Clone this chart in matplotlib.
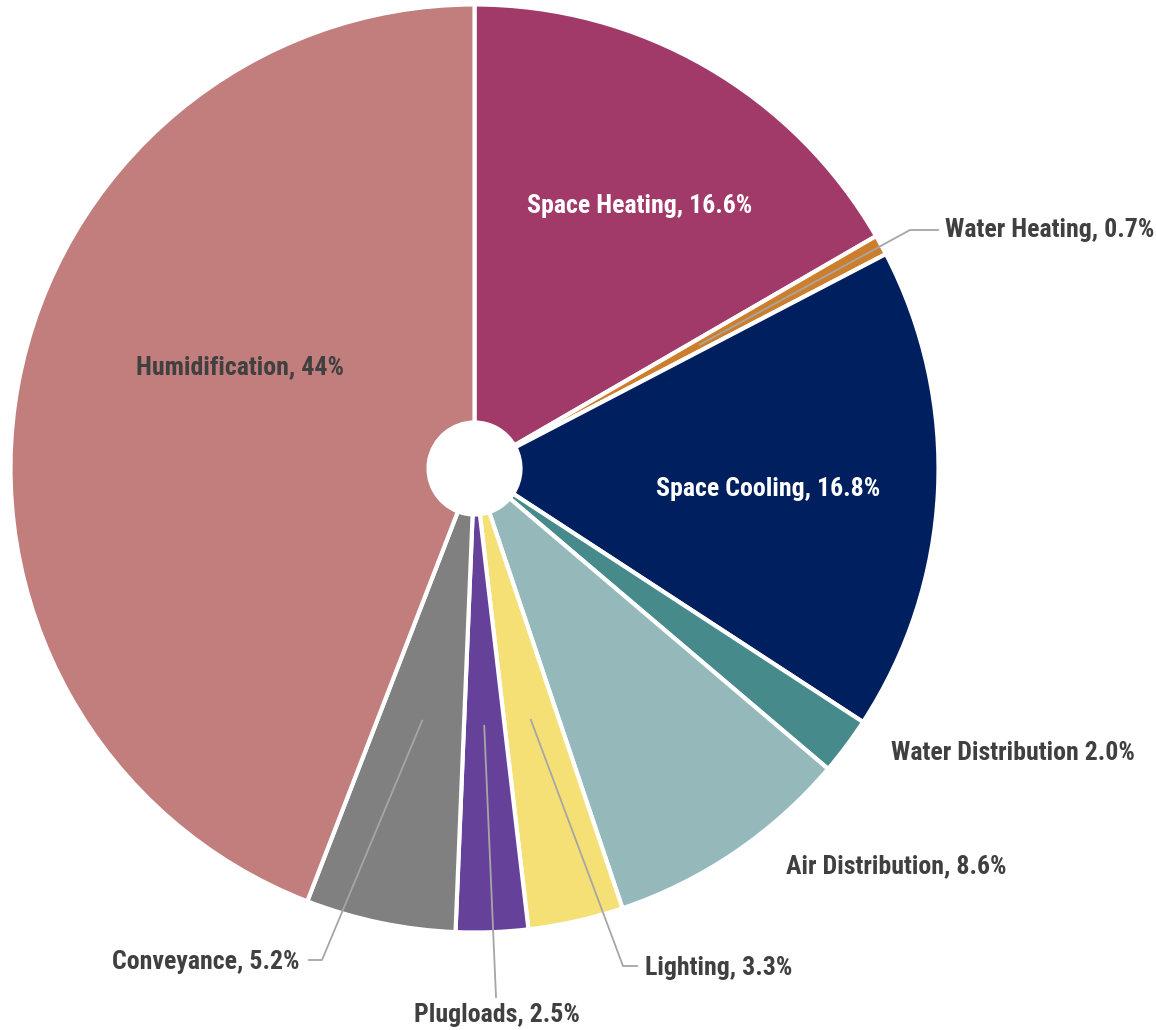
import matplotlib
matplotlib.use("Agg")
import matplotlib.pyplot as plt
import numpy as np

# ---- data ----
categories = ["Space Heating", "Water Heating", "Space Cooling", "Water Distribution",
              "Air Distribution", "Lighting", "Plugloads", "Conveyance", "Humidification"]
values = [16.6, 0.7, 16.8, 2.0, 8.6, 3.3, 2.5, 5.2, 44.0]
label_texts = ["Space Heating, 16.6%", "Water Heating, 0.7%", "Space Cooling, 16.8%",
               "Water Distribution 2.0%", "Air Distribution, 8.6%", "Lighting, 3.3%",
               "Plugloads, 2.5%", "Conveyance, 5.2%", "Humidification, 44%"]
colors = ["#A23A69", "#CC7E2C", "#001F5E", "#468A8C", "#95B9BB", "#F5E076",
          "#65419A", "#808080", "#C27D7D"]

W, H = 1156, 1030
fig = plt.figure(figsize=(W / 100, H / 100), dpi=100)
ax = fig.add_axes([0, 0, 1, 1])

cx, cy = 474.5, H - 468.5
R = 464
R_in = 46
font = ["Roboto Condensed", "Liberation Sans", "DejaVu Sans"]

wedges, _ = ax.pie(values, colors=colors, startangle=90, counterclock=False,
                   center=(cx, cy), radius=R, frame=True,
                   wedgeprops=dict(width=R - R_in, edgecolor="white", linewidth=3.0))
ax.set_xlim(0, W)
ax.set_ylim(0, H)
ax.set_aspect("equal")
ax.axis("off")

# label layout: (x, y in image px, ha, color, leader points or None)
layout = {
    "Space Heating": (640, 206, "center", "white", None),
    "Water Heating": (945, 230, "left", "#404040", [(910, 230), (938, 230)]),
    "Space Cooling": (768, 489, "center", "white", None),
    "Water Distribution": (891, 753, "left", "#404040", None),
    "Air Distribution": (786, 866, "left", "#404040", None),
    "Lighting": (645, 968, "left", "#404040", [(623, 966), (637, 966)]),
    "Plugloads": (497, 1015, "center", "#404040", [(496, 997)]),
    "Conveyance": (300, 962, "right", "#404040", [(322, 960), (309, 960)]),
    "Humidification": (240, 367, "center", "#404040", None),
}

for w, cat, txt in zip(wedges, categories, label_texts):
    x, y, ha, col, leader = layout[cat]
    ax.text(x, H - y, txt, ha=ha, va="center", fontsize=18.6, fontweight="bold",
            color=col, family=font)
    if leader:
        mid = np.deg2rad((w.theta1 + w.theta2) / 2)
        r0 = 0.555 * R
        xs = [cx + r0 * np.cos(mid)] + [p[0] for p in leader]
        ys = [cy + r0 * np.sin(mid)] + [H - p[1] for p in leader]
        ax.plot(xs, ys, color="#A6A6A6", linewidth=1.3, zorder=5)

fig.savefig("out.png", dpi=100)
